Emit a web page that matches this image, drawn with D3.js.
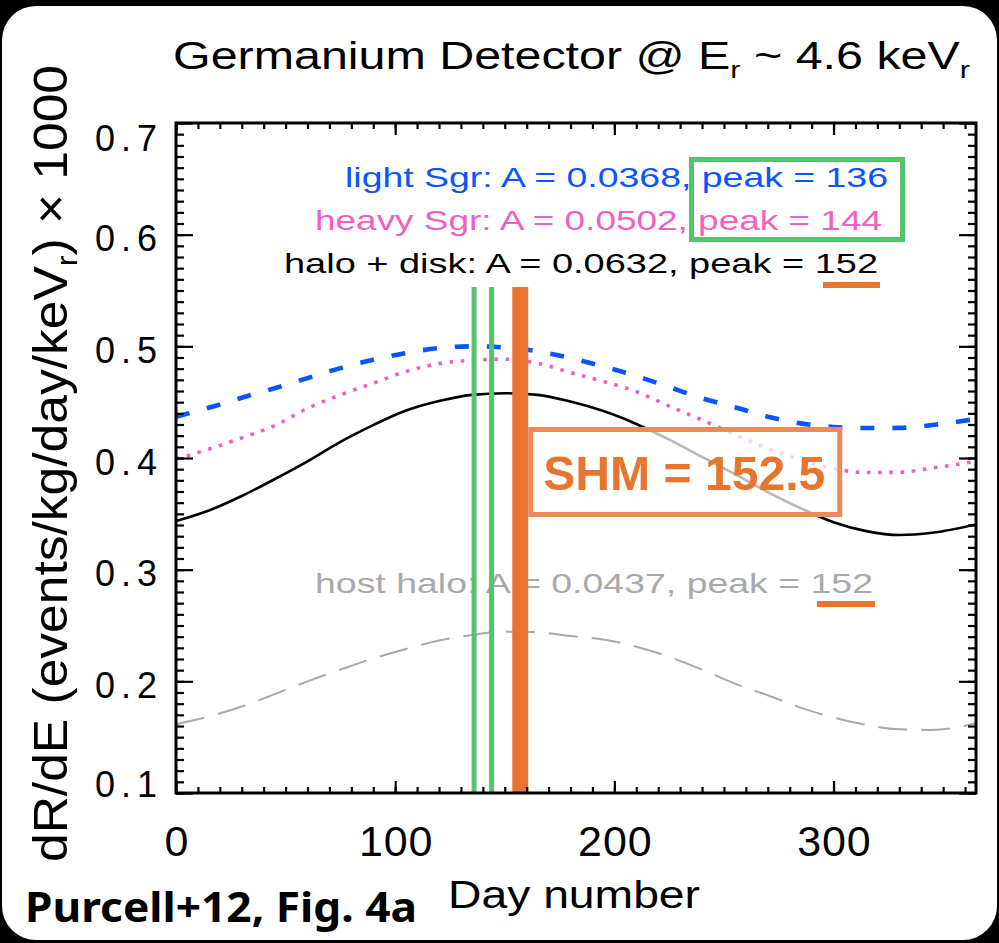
<!DOCTYPE html>
<html>
<head>
<meta charset="utf-8">
<script src="https://cdn.jsdelivr.net/npm/d3@7"></script>
<style>
  html, body { margin: 0; padding: 0; background: #000; }
  svg { display: block; }
  text { font-family: "Liberation Sans", "DejaVu Sans", sans-serif; }
</style>
</head>
<body>
<svg id="chart" width="999" height="943"></svg>
<script>
// ---- data: annual modulation of dR/dE (x1000) vs day number ----
const days      = [0, 15, 30, 45, 60, 75, 90, 105, 120, 135, 150, 165, 180, 195, 210, 225, 240, 255, 270, 285, 300, 315, 330, 345, 365];
const lightSgr  = [0.437, 0.445, 0.454, 0.4625, 0.4715, 0.4805, 0.488, 0.494, 0.4985, 0.500, 0.499, 0.4955, 0.4895, 0.482, 0.4735, 0.4635, 0.4535, 0.4455, 0.437, 0.431, 0.4278, 0.4268, 0.427, 0.4295, 0.435];
const heavySgr  = [0.399, 0.408, 0.418, 0.429, 0.4445, 0.4565, 0.467, 0.4775, 0.4845, 0.4875, 0.4885, 0.4848, 0.4765, 0.4685, 0.4595, 0.4465, 0.434, 0.421, 0.4085, 0.3985, 0.3905, 0.387, 0.3872, 0.391, 0.397];
const haloDisk  = [0.3435, 0.353, 0.366, 0.381, 0.397, 0.4145, 0.4295, 0.4425, 0.451, 0.4565, 0.458, 0.4565, 0.4505, 0.442, 0.4305, 0.4165, 0.401, 0.3855, 0.3695, 0.355, 0.3425, 0.3345, 0.331, 0.333, 0.3405];
const hostHalo  = [0.1615, 0.1685, 0.1775, 0.1885, 0.200, 0.2105, 0.2205, 0.229, 0.2365, 0.2415, 0.2445, 0.244, 0.2405, 0.2375, 0.231, 0.222, 0.2105, 0.198, 0.1875, 0.1765, 0.1675, 0.161, 0.157, 0.1565, 0.1625];

const xTicks      = [0, 100, 200, 300];
const yTicks      = [0.1, 0.2, 0.3, 0.4, 0.5, 0.6, 0.7];
const xMinorTicks = d3.range(0, 366, 10);
const yMinorTicks = d3.range(10, 71).map(i => i / 100);

const peakLight = 136;
const peakHeavy = 144;
const peakShm   = 152.5;

const legendText = [
  "light Sgr: A = 0.0368, peak = 136",
  "heavy Sgr: A = 0.0502, peak = 144",
  "halo + disk: A = 0.0632, peak = 152"
];
const hostText = "host halo: A = 0.0437, peak = 152";
const shmText  = "SHM = 152.5";

// ---- layout ----
const W = 999, H = 943;
const plot = { left: 176, right: 976, top: 123, bottom: 793 };
const colors = {
  light: "#0a55ff", heavy: "#f060c0", halo: "#000000", host: "#a9a9a9",
  green: "#53c46c", orange: "#e8752f", orangeLight: "#ec8b55"
};

const svg = d3.select("#chart");

// rounded white panel on black
svg.append("rect").attr("x", 0).attr("y", 0).attr("width", W).attr("height", H).attr("fill", "#000");
svg.append("rect").attr("x", 2).attr("y", 6).attr("width", 995).attr("height", 934)
  .attr("rx", 34).attr("ry", 34).attr("fill", "#fff");

const x = d3.scaleLinear().domain([0, 365]).range([plot.left, plot.right]);
const y = d3.scaleLinear().domain([0.1, 0.7]).range([plot.bottom, plot.top]);

svg.append("clipPath").attr("id", "plotClip").append("rect")
  .attr("x", plot.left).attr("y", plot.top)
  .attr("width", plot.right - plot.left).attr("height", plot.bottom - plot.top);

// ---- curves ----
const line = d3.line().x(d => x(d[0])).y(d => y(d[1])).curve(d3.curveMonotoneX);
const curves = svg.append("g").attr("clip-path", "url(#plotClip)");
function drawCurve(values, color, width, dash) {
  curves.append("path")
    .datum(days.map((d, i) => [d, values[i]]))
    .attr("d", line)
    .attr("fill", "none")
    .attr("stroke", color)
    .attr("stroke-width", width)
    .attr("stroke-dasharray", dash);
}
drawCurve(hostHalo, colors.host, 2, "29,14");
drawCurve(haloDisk, colors.halo, 2.6, null);
drawCurve(heavySgr, colors.heavy, 3.6, "3.6,7.6");
drawCurve(lightSgr, colors.light, 4.6, "14,18");

// ---- annotation text ----
const legendColors = [colors.light, colors.heavy, colors.halo];
const legendEnds = [888, 882, 878];
const legendLengths = [543, 567, 594];
const legendBaselines = [187, 230, 273];
legendText.forEach((t, i) => {
  svg.append("text")
    .attr("x", legendEnds[i]).attr("y", legendBaselines[i])
    .attr("text-anchor", "end")
    .attr("font-size", 28)
    .attr("fill", legendColors[i])
    .attr("textLength", legendLengths[i])
    .attr("lengthAdjust", "spacingAndGlyphs")
    .text(t);
});
const hostEnd = 873;
svg.append("text")
  .attr("x", hostEnd).attr("y", 593)
  .attr("text-anchor", "end")
  .attr("font-size", 28)
  .attr("fill", colors.host)
  .attr("textLength", 558)
  .attr("lengthAdjust", "spacingAndGlyphs")
  .text(hostText);

// ---- peak markers ----
const markTop = 287;
[peakLight, peakHeavy].forEach(p => {
  svg.append("line")
    .attr("x1", x(p)).attr("x2", x(p))
    .attr("y1", markTop).attr("y2", plot.bottom)
    .attr("stroke", colors.green).attr("stroke-width", 5);
});
svg.append("rect")
  .attr("x", x(peakShm) + 2).attr("y", markTop)
  .attr("width", 16).attr("height", plot.bottom - markTop)
  .attr("fill", colors.orange);

// SHM label box
const boxLeft = x(peakShm) + 18;
svg.append("rect")
  .attr("x", boxLeft + 2.5).attr("y", 429.5)
  .attr("width", 309).attr("height", 85)
  .attr("fill", "#fff").attr("fill-opacity", 0.72)
  .attr("stroke", colors.orangeLight).attr("stroke-width", 5);
svg.append("text")
  .attr("x", boxLeft + 15).attr("y", 490)
  .attr("font-size", 48).attr("font-weight", "bold")
  .attr("fill", colors.orange)
  .attr("textLength", 282).attr("lengthAdjust", "spacingAndGlyphs")
  .text(shmText);

// highlight box around the Sgr peak days
svg.append("rect")
  .attr("x", 691.5).attr("y", 159.5)
  .attr("width", 211).attr("height", 80)
  .attr("fill", "none")
  .attr("stroke", colors.green).attr("stroke-width", 5);

// underline the 152-day peaks
svg.append("rect").attr("x", legendEnds[2] - 55).attr("y", 282).attr("width", 57).attr("height", 6).attr("fill", colors.orange);
svg.append("rect").attr("x", hostEnd - 56).attr("y", 601).attr("width", 58).attr("height", 6).attr("fill", colors.orange);

// ---- axes: frame with inward ticks on all four sides ----
function tickAxis(gen, transform, values, size) {
  const g = svg.append("g").attr("transform", transform)
    .call(gen.tickValues(values).tickSize(size).tickFormat(""));
  g.select(".domain").remove();
  g.selectAll("line").attr("stroke", "#000").attr("stroke-width", 2.2);
}
tickAxis(d3.axisRight(y), `translate(${plot.left},0)`, yMinorTicks, 8);
tickAxis(d3.axisRight(y), `translate(${plot.left},0)`, yTicks, 17);
tickAxis(d3.axisLeft(y), `translate(${plot.right},0)`, yMinorTicks, 8);
tickAxis(d3.axisLeft(y), `translate(${plot.right},0)`, yTicks, 17);
tickAxis(d3.axisTop(x), `translate(0,${plot.bottom})`, xMinorTicks, 6);
tickAxis(d3.axisTop(x), `translate(0,${plot.bottom})`, xTicks, 12);
tickAxis(d3.axisBottom(x), `translate(0,${plot.top})`, xMinorTicks, 6);
tickAxis(d3.axisBottom(x), `translate(0,${plot.top})`, xTicks, 12);

svg.append("rect")
  .attr("x", plot.left).attr("y", plot.top)
  .attr("width", plot.right - plot.left).attr("height", plot.bottom - plot.top)
  .attr("fill", "none").attr("stroke", "#000").attr("stroke-width", 3);

// tick labels
const yLab = svg.append("g").attr("transform", `translate(${plot.left},0)`)
  .call(d3.axisLeft(y).tickValues(yTicks).tickSize(0).tickPadding(19).tickFormat(d3.format(".1f")));
yLab.select(".domain").remove();
yLab.selectAll("text")
  .attr("font-size", 36).attr("fill", "#000")
  .attr("font-family", null)
  .attr("textLength", 62).attr("lengthAdjust", "spacing")
  .attr("dy", d => d === 0.7 ? "0.75em" : d === 0.1 ? "0.09em" : "0.45em");

const xLab = svg.append("g").attr("transform", `translate(0,${plot.bottom})`)
  .call(d3.axisBottom(x).tickValues(xTicks).tickSize(0).tickPadding(32).tickFormat(d3.format("d")));
xLab.select(".domain").remove();
xLab.selectAll("text")
  .attr("font-size", 43).attr("fill", "#000")
  .attr("font-family", null)
  .attr("textLength", d => String(d).length * 24.5).attr("lengthAdjust", "spacing");

// ---- titles ----
const title = svg.append("text")
  .attr("x", 173).attr("y", 69)
  .attr("font-size", 38).attr("fill", "#000")
  .attr("textLength", 797).attr("lengthAdjust", "spacingAndGlyphs");
title.append("tspan").text("Germanium Detector @ E");
title.append("tspan").attr("dy", 9).attr("font-size", 24).text("r");
title.append("tspan").attr("dy", -9).text(" ~ 4.6 keV");
title.append("tspan").attr("dy", 9).attr("font-size", 24).text("r");

const yTitle = svg.append("text")
  .attr("transform", "translate(67,862) rotate(-90)")
  .attr("font-size", 48).attr("fill", "#000")
  .attr("textLength", 797).attr("lengthAdjust", "spacingAndGlyphs");
yTitle.append("tspan").text("dR/dE (events/kg/day/keV");
yTitle.append("tspan").attr("dy", 10).attr("font-size", 30).text("r");
yTitle.append("tspan").attr("dy", -10).text(") \u00d7 1000");

svg.append("text")
  .attr("x", 448).attr("y", 908)
  .attr("font-size", 38).attr("fill", "#000")
  .attr("textLength", 252).attr("lengthAdjust", "spacingAndGlyphs")
  .text("Day number");

svg.append("text")
  .attr("x", 25).attr("y", 922)
  .attr("font-size", 41).attr("font-weight", "bold").attr("fill", "#000")
  .style("font-family", "'Noto Sans', 'Open Sans', sans-serif")
  .attr("textLength", 392).attr("lengthAdjust", "spacingAndGlyphs")
  .text("Purcell+12, Fig. 4a");
</script>
</body>
</html>
